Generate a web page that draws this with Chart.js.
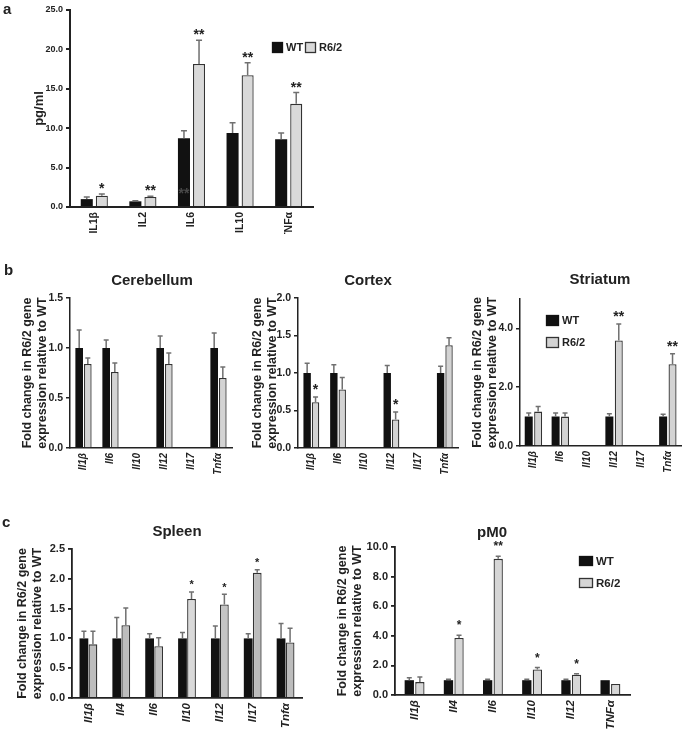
<!DOCTYPE html>
<html>
<head>
<meta charset="utf-8">
<script src="https://cdn.jsdelivr.net/npm/chart.js@4.4.0/dist/chart.umd.min.js"></script>
<style>
  body { margin: 0; background: #fff; }
  #fig { position: relative; width: 685px; height: 734px; overflow: hidden; background: #fff; }
  #fig canvas { position: absolute; }
</style>
</head>
<body>
<div id="fig"></div>
<script>
// ---- data: panel a (serum) ----
const serumLabels = ['IL1β', 'IL2', 'IL6', 'IL10', 'TNFα'];
const serumWT = [1.0, 0.72, 8.74, 9.38, 8.61];
const serumWTErr = [0.27, 0.08, 0.93, 1.3, 0.77];
const serumR62 = [1.44, 1.27, 18.16, 16.72, 13.09];
const serumR62Err = [0.21, 0.08, 3.0, 1.57, 1.44];
const serumStars = ['*', '**', '**', '**', '**'];
const serumWTMarks = ['', '', '**', '', ''];
const serumWTMarkAt = 2.2;
const serumTicks = [0, 5, 10, 15, 20, 25];

// ---- data: panel b (brain) ----
const brainLabels = ['Il1β', 'Il6', 'Il10', 'Il12', 'Il17', 'Tnfα'];
const cerebWT = [1.0, 1.0, null, 1.0, null, 1.0];
const cerebWTErr = [0.18, 0.08, null, 0.12, null, 0.15];
const cerebR62 = [0.84, 0.76, null, 0.84, null, 0.70];
const cerebR62Err = [0.06, 0.09, null, 0.11, null, 0.11];
const cerebStars = ['', '', '', '', '', ''];
const cerebTicks = [0, 0.5, 1.0, 1.5];

const cortexWT = [1.0, 1.0, null, 1.0, null, 1.0];
const cortexWTErr = [0.13, 0.11, null, 0.1, null, 0.09];
const cortexR62 = [0.61, 0.78, null, 0.38, null, 1.37];
const cortexR62Err = [0.07, 0.16, null, 0.1, null, 0.1];
const cortexStars = ['*', '', '', '*', '', ''];
const cortexTicks = [0, 0.5, 1.0, 1.5, 2.0];

const striatWT = [1.0, 1.0, null, 1.0, null, 1.0];
const striatWTErr = [0.12, 0.12, null, 0.1, null, 0.08];
const striatR62 = [1.17, 1.0, null, 3.59, null, 2.78];
const striatR62Err = [0.17, 0.12, null, 0.56, null, 0.36];
const striatStars = ['', '', '', '**', '', '**'];
const striatTicks = [0, 2, 4];

// ---- data: panel c ----
const spleenLabels = ['Il1β', 'Il4', 'Il6', 'Il10', 'Il12', 'Il17', 'Tnfα'];
const spleenWT = [1.0, 1.0, 1.0, 1.0, 1.0, 1.0, 1.0];
const spleenWTErr = [0.12, 0.35, 0.08, 0.1, 0.21, 0.08, 0.25];
const spleenR62 = [0.9, 1.22, 0.87, 1.66, 1.57, 2.1, 0.93];
const spleenR62Err = [0.22, 0.29, 0.14, 0.12, 0.17, 0.05, 0.24];
const spleenStars = ['', '', '', '*', '*', '*', ''];
const spleenTicks = [0, 0.5, 1.0, 1.5, 2.0, 2.5];

const pm0Labels = ['Il1β', 'Il4', 'Il6', 'Il10', 'Il12', 'TNFα'];
const pm0WT = [1.0, 1.0, 1.0, 1.0, 1.0, 1.0];
const pm0WTErr = [0.16, 0.07, 0.07, 0.07, 0.07, 0];
const pm0R62 = [0.87, 3.85, 9.2, 1.73, 1.37, 0.74];
const pm0R62Err = [0.35, 0.18, 0.18, 0.12, 0.07, 0];
const pm0Stars = ['', '*', '**', '*', '*', ''];
const pm0Ticks = [0, 2, 4, 6, 8, 10];

const FONT = "'Liberation Sans', Arial, sans-serif";
const INK = '#222';
const foldTitle = ['Fold change in R6/2 gene', 'expression relative to WT'];
Chart.defaults.font.family = FONT;

const fig = document.getElementById('fig');

function makeDecor(c) {
  return {
    id: 'decor',
    afterDatasetsDraw(chart) {
      const ctx = chart.ctx;
      const y = chart.scales.y;
      ctx.save();
      // error bars (upper only)
      chart.data.datasets.forEach((ds, i) => {
        const meta = chart.getDatasetMeta(i);
        meta.data.forEach((bar, j) => {
          const v = ds.data[j], e = ds.errors[j];
          if (v == null || !e) return;
          const top = y.getPixelForValue(v + e);
          ctx.strokeStyle = '#707070';
          ctx.lineWidth = 1.5;
          ctx.beginPath();
          ctx.moveTo(bar.x, bar.y);
          ctx.lineTo(bar.x, top);
          ctx.moveTo(bar.x - c.cap, top);
          ctx.lineTo(bar.x + c.cap, top);
          ctx.stroke();
        });
      });
      // significance stars over R6/2 bars
      const ds = chart.data.datasets[1];
      const meta = chart.getDatasetMeta(1);
      ctx.fillStyle = INK;
      ctx.font = 'bold ' + c.starSize + 'px ' + FONT;
      ctx.textAlign = 'center';
      ctx.textBaseline = 'alphabetic';
      c.stars.forEach((s, j) => {
        if (!s) return;
        const top = y.getPixelForValue(ds.data[j] + (ds.errors[j] || 0));
        ctx.fillText(s, meta.data[j].x, top - c.starGap + 0.575 * c.starSize);
      });
      // faint marks inside WT bars
      if (c.wtMarks) {
        const m0 = chart.getDatasetMeta(0);
        ctx.fillStyle = '#4a4a4a';
        c.wtMarks.forEach((s, j) => {
          if (!s) return;
          ctx.fillText(s, m0.data[j].x, y.getPixelForValue(c.wtMarkAt) + 0.575 * c.starSize);
        });
      }
      ctx.restore();
    },
    afterDraw(chart) {
      const ctx = chart.ctx;
      ctx.save();
      ctx.fillStyle = INK;
      ctx.textBaseline = 'middle';
      if (c.title) {
        ctx.font = 'bold 15px ' + FONT;
        ctx.textAlign = 'center';
        ctx.fillText(c.title.text, c.title.x - c.left, c.title.y - c.top);
      }
      if (c.letter) {
        ctx.font = 'bold 15px ' + FONT;
        ctx.textAlign = 'left';
        ctx.fillText(c.letter.text, c.letter.x - c.left, c.letter.y - c.top);
      }
      if (c.legend) {
        const L = c.legend;
        const ds = chart.data.datasets;
        ctx.font = 'bold ' + L.size + 'px ' + FONT;
        ctx.textAlign = 'left';
        L.items.forEach((it, i) => {
          const bx = it.x - c.left, by = it.y - c.top;
          ctx.fillStyle = i === 0 ? ds[0].backgroundColor : L.r62Fill;
          ctx.fillRect(bx, by, L.bw, L.bh);
          ctx.strokeStyle = i === 0 ? '#111' : '#333';
          ctx.lineWidth = 1.3;
          ctx.strokeRect(bx + 0.5, by + 0.5, L.bw - 1, L.bh - 1);
          ctx.fillStyle = INK;
          ctx.fillText(ds[i].label, bx + L.bw + 3, by + L.bh / 2 + 0.5);
        });
      }
      ctx.restore();
    }
  };
}

function panel(c) {
  const cv = document.createElement('canvas');
  cv.width = c.w;
  cv.height = c.h;
  cv.style.left = c.left + 'px';
  cv.style.top = c.top + 'px';
  fig.appendChild(cv);
  new Chart(cv, {
    type: 'bar',
    data: {
      labels: c.labels,
      datasets: [
        { label: 'WT', data: c.wt, errors: c.wtErr, backgroundColor: '#111', borderWidth: 0,
          categoryPercentage: c.catPct, barPercentage: c.barPct },
        { label: 'R6/2', data: c.r62, errors: c.r62Err, backgroundColor: c.r62Fill, borderColor: '#333', borderWidth: 1.3,
          categoryPercentage: c.catPct, barPercentage: c.barPct }
      ]
    },
    options: {
      responsive: false,
      animation: false,
      devicePixelRatio: 1,
      layout: { padding: { top: c.padTop, right: c.padRight, left: 0, bottom: 0 } },
      plugins: { legend: { display: false }, tooltip: { enabled: false } },
      scales: {
        x: {
          grid: { display: true, drawOnChartArea: false, drawTicks: false },
          border: { color: INK, width: c.axisW },
          ticks: { minRotation: 90, maxRotation: 90, autoSkip: false, padding: 5, color: INK,
                   font: { size: c.xFont, weight: 'bold', style: c.italic ? 'italic' : 'normal' } },
          afterFit: s => { s.height = c.xH; }
        },
        y: {
          min: 0, max: c.max,
          grid: { drawOnChartArea: false, drawTicks: true, tickLength: 4, color: INK, lineWidth: c.axisW },
          border: { color: INK, width: c.axisW },
          ticks: { padding: 3, color: INK, font: { size: c.yFont, weight: 'bold' }, callback: v => v.toFixed(1) },
          afterBuildTicks: s => { s.ticks = c.ticks.map(v => ({ value: v })); },
          afterFit: s => { s.width = c.yW; },
          title: { display: true, text: c.yTitle, color: INK,
                   font: { size: c.yTitleSize, weight: 'bold', lineHeight: 1.2 },
                   padding: { top: c.yTitlePad, bottom: 0 } }
        }
      }
    },
    plugins: [makeDecor(c)]
  });
}

// panel a
panel({
  left: 0, top: 0, w: 345, h: 234, padTop: 10, padRight: 32, yW: 70, xH: 27,
  labels: serumLabels, wt: serumWT, wtErr: serumWTErr, r62: serumR62, r62Err: serumR62Err,
  stars: serumStars, starSize: 14, starGap: 9, wtMarks: serumWTMarks, wtMarkAt: serumWTMarkAt,
  ticks: serumTicks, max: 25, catPct: 0.62, barPct: 0.8, r62Fill: '#d9d9d9', cap: 3,
  axisW: 2, xFont: 10.5, italic: false, yFont: 9, yTitle: 'pg/ml', yTitleSize: 13, yTitlePad: 32,
  letter: { text: 'a', x: 3, y: 10 },
  legend: { size: 11, bw: 11, bh: 11, r62Fill: '#d9d9d9', items: [{ x: 272, y: 42 }, { x: 305, y: 42 }] }
});

// panel b
panel({
  left: 0, top: 240, w: 240, h: 240, padTop: 58, padRight: 8, yW: 70, xH: 32,
  labels: brainLabels, wt: cerebWT, wtErr: cerebWTErr, r62: cerebR62, r62Err: cerebR62Err,
  stars: cerebStars, starSize: 14, starGap: 11,
  ticks: cerebTicks, max: 1.5, catPct: 0.64, barPct: 0.88, r62Fill: '#d3d3d3', cap: 2.5,
  axisW: 1.5, xFont: 10, italic: true, yFont: 10.5, yTitle: foldTitle, yTitleSize: 12.5, yTitlePad: 20.5,
  letter: { text: 'b', x: 4, y: 271 }, title: { text: 'Cerebellum', x: 152, y: 281 }
});
panel({
  left: 240, top: 240, w: 222, h: 240, padTop: 58, padRight: 2, yW: 58, xH: 32,
  labels: brainLabels, wt: cortexWT, wtErr: cortexWTErr, r62: cortexR62, r62Err: cortexR62Err,
  stars: cortexStars, starSize: 14, starGap: 11,
  ticks: cortexTicks, max: 2.0, catPct: 0.63, barPct: 0.88, r62Fill: '#d3d3d3', cap: 2.5,
  axisW: 1.5, xFont: 10, italic: true, yFont: 10.5, yTitle: foldTitle, yTitleSize: 12.5, yTitlePad: 10.5,
  title: { text: 'Cortex', x: 368, y: 281 }
});
panel({
  left: 462, top: 240, w: 223, h: 240, padTop: 59, padRight: 2, yW: 58, xH: 34,
  labels: brainLabels, wt: striatWT, wtErr: striatWTErr, r62: striatR62, r62Err: striatR62Err,
  stars: striatStars, starSize: 14, starGap: 11,
  ticks: striatTicks, max: 5, catPct: 0.7, barPct: 0.85, r62Fill: '#d3d3d3', cap: 2.5,
  axisW: 1.5, xFont: 10, italic: true, yFont: 10.5, yTitle: foldTitle, yTitleSize: 12.5, yTitlePad: 8.5,
  title: { text: 'Striatum', x: 600, y: 280 },
  legend: { size: 11, bw: 13, bh: 11, r62Fill: '#d3d3d3', items: [{ x: 546, y: 315 }, { x: 546, y: 337 }] }
});

// panel c
panel({
  left: 0, top: 490, w: 335, h: 244, padTop: 59, padRight: 33, yW: 72, xH: 36,
  labels: spleenLabels, wt: spleenWT, wtErr: spleenWTErr, r62: spleenR62, r62Err: spleenR62Err,
  stars: spleenStars, starSize: 11, starGap: 10,
  ticks: spleenTicks, max: 2.5, catPct: 0.55, barPct: 0.97,
  r62Fill: ['#bdbdbd', '#bdbdbd', '#c2c2c2', '#d9d9d9', '#c4c4c4', '#bcbcbc', '#bdbdbd'], cap: 2.5,
  axisW: 1.8, xFont: 11.5, italic: true, yFont: 11, yTitle: foldTitle, yTitleSize: 12.5, yTitlePad: 15.5,
  letter: { text: 'c', x: 2, y: 523 }, title: { text: 'Spleen', x: 177, y: 532 }
});
panel({
  left: 335, top: 490, w: 350, h: 244, padTop: 57, padRight: 55, yW: 60, xH: 39,
  labels: pm0Labels, wt: pm0WT, wtErr: pm0WTErr, r62: pm0R62, r62Err: pm0R62Err,
  stars: pm0Stars, starSize: 12, starGap: 13,
  ticks: pm0Ticks, max: 10, catPct: 0.54, barPct: 0.88, r62Fill: '#d6d6d6', cap: 2.5,
  axisW: 1.8, xFont: 11.5, italic: true, yFont: 11, yTitle: foldTitle, yTitleSize: 12.5, yTitlePad: 0.5,
  title: { text: 'pM0', x: 492, y: 533 },
  legend: { size: 11.5, bw: 14, bh: 10, r62Fill: '#d6d6d6', items: [{ x: 579, y: 556 }, { x: 579, y: 578 }] }
});
</script>
</body>
</html>
